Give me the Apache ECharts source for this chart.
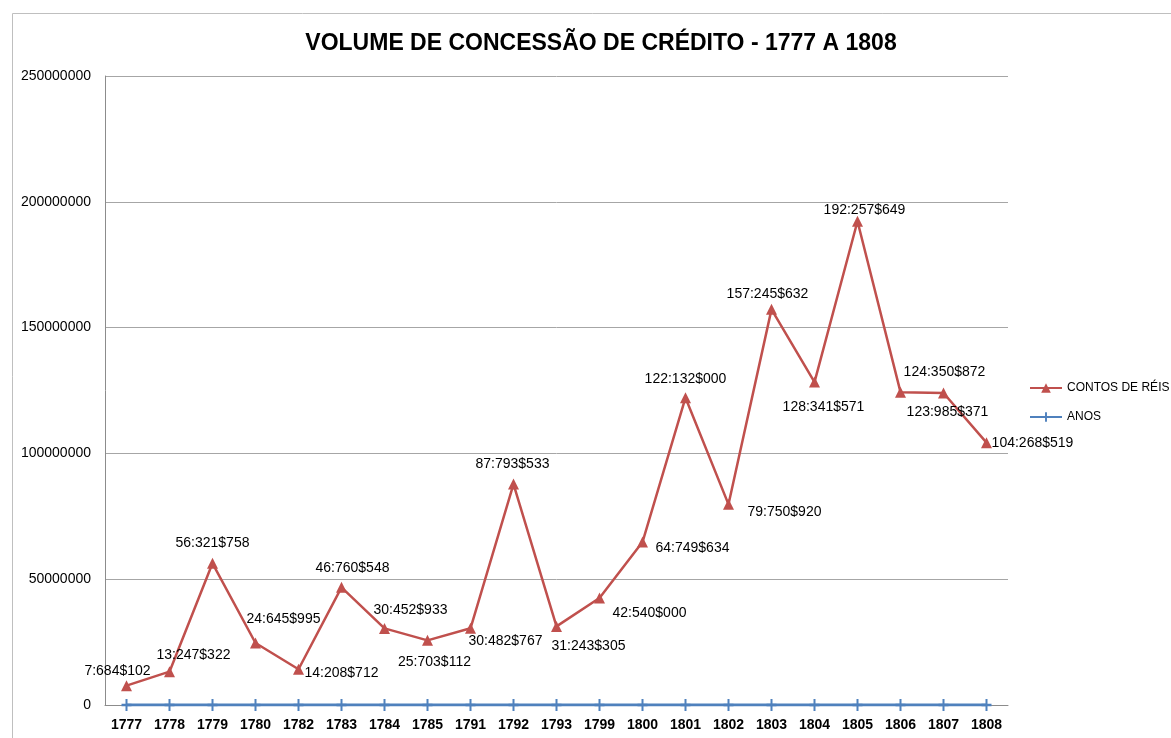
<!DOCTYPE html>
<html>
<head>
<meta charset="utf-8">
<script src="https://cdn.jsdelivr.net/npm/echarts@6/dist/echarts.min.js"></script>
<style>
html,body{margin:0;padding:0;background:#fff;}
#chart{width:1171px;height:738px;}
</style>
</head>
<body>
<div id="chart"></div>
<script>
// ---- data ----
var years = ['1777','1778','1779','1780','1782','1783','1784','1785','1791','1792','1793','1799','1800','1801','1802','1803','1804','1805','1806','1807','1808'];
var contosDeReis = [7684102, 13247322, 56321758, 24645995, 14208712, 46760548, 30452933, 25703112, 30482767, 87793533, 31243305, 42540000, 64749634, 122132000, 79750920, 157245632, 128341571, 192257649, 124350872, 123985371, 104268519];
var anos = [1777, 1778, 1779, 1780, 1782, 1783, 1784, 1785, 1791, 1792, 1793, 1799, 1800, 1801, 1802, 1803, 1804, 1805, 1806, 1807, 1808];
var yTicks = [0, 50000000, 100000000, 150000000, 200000000, 250000000];

// ---- label placement (styling only): offset of label centre from point ----
var labelOffsets = [[-9,-15],[24,-17],[0,-20],[28,-24],[43,4],[11,-19],[26,-18],[7,22],[35,13],[-1,-20],[32,20],[50,15],[50,6],[0,-19],[56,8],[-4,-15],[9,25],[7,-11],[44,-20],[4,19],[46,0]];

function fmt(v){
  var s = String(Math.round(v));
  while (s.length < 7) s = '0' + s;
  var units = s.slice(-3), thou = s.slice(-6,-3), mil = s.slice(0, s.length-6);
  return mil + ':' + thou + '$' + units;
}

var chart = echarts.init(document.getElementById('chart'), null, {renderer:'canvas'});
var FONT = 'Liberation Sans, Arial, sans-serif';

var redData = contosDeReis.map(function(v,i){
  return {
    value: v,
    label: {show:true, position:'inside', offset: labelOffsets[i], formatter: function(p){return fmt(p.value);}}
  };
});

chart.setOption({
  backgroundColor:'#ffffff',
  animation:false,
  title:{
    text:'VOLUME DE CONCESSÃO DE CRÉDITO - 1777 A 1808',
    top:27, left:596, textAlign:'center',
    textStyle:{fontFamily:FONT, fontSize:23, fontWeight:'bold', color:'#000'}
  },
  graphic:[{
    type:'rect', left:10, top:11, silent:true,
    shape:{width:1180, height:740},
    style:{fill:'none', stroke:'#bfbfbf', lineWidth:1}
  }],
  legend:{
    orient:'vertical', left:1029, top:382, padding:0,
    itemWidth:32, itemHeight:12, itemGap:17,
    textStyle:{fontFamily:FONT, fontSize:12, color:'#000'},
    data:['CONTOS DE RÉIS','ANOS']
  },
  grid:{left:105, right:163, top:76, bottom:33, containLabel:false},
  xAxis:{
    type:'category', data:years, boundaryGap:true,
    axisLine:{show:true, lineStyle:{color:'#8c8c8c', width:1}},
    axisTick:{show:false},
    axisLabel:{fontFamily:FONT, fontSize:14, fontWeight:'bold', color:'#000', margin:13, interval:0}
  },
  yAxis:{
    type:'value', min:yTicks[0], max:yTicks[yTicks.length-1], interval:yTicks[1]-yTicks[0],
    axisLine:{show:true, lineStyle:{color:'#8c8c8c', width:1}},
    axisTick:{show:false},
    splitLine:{show:true, lineStyle:{color:'#a6a6a6', width:1}},
    axisLabel:{fontFamily:FONT, fontSize:14, color:'#000', margin:14, formatter:function(v){return String(v);}}
  },
  series:[
    {
      name:'ANOS', type:'line', data:anos,
      symbol:'path://M4,0h2v10h-2z M0,4h10v2h-10z', symbolSize:[10,12],
      lineStyle:{color:'#4f81bd', width:3},
      itemStyle:{color:'#4f81bd'},
      z:2
    },
    {
      name:'CONTOS DE RÉIS', type:'line', data:redData,
      symbol:'triangle', symbolSize:11,
      lineStyle:{color:'#c0504d', width:2.5},
      itemStyle:{color:'#c0504d'},
      label:{fontFamily:FONT, fontSize:14, color:'#000'},
      z:3
    }
  ]
});
</script>
</body>
</html>
